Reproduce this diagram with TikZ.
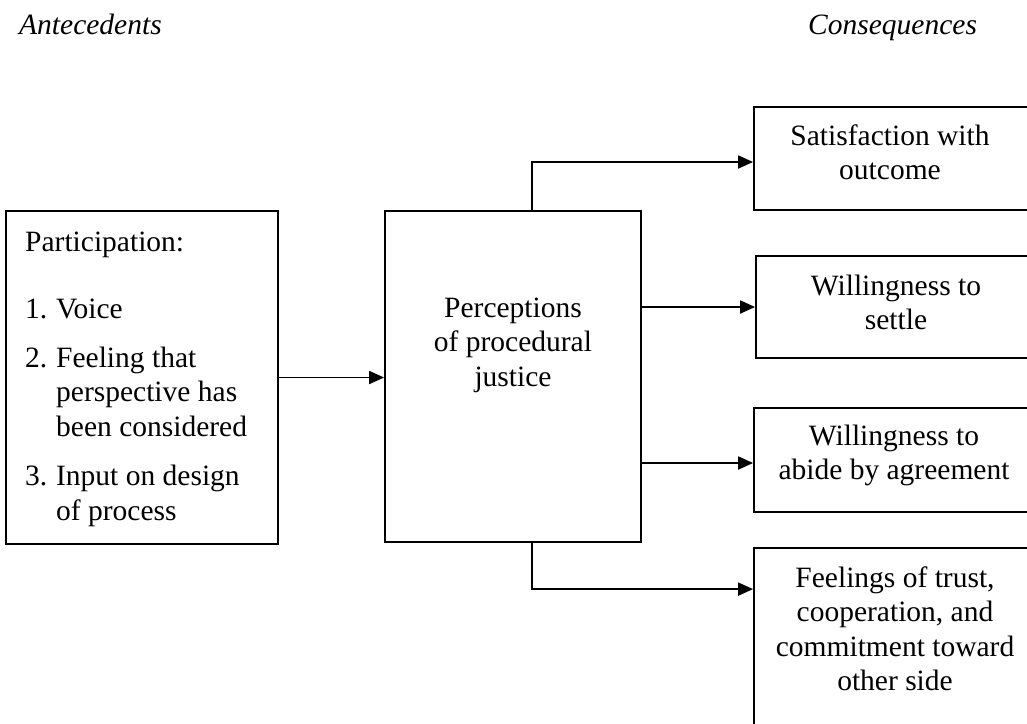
\documentclass[tikz,border=0pt]{standalone}
\usepackage{fontspec}
\setmainfont{Liberation Serif}
\usetikzlibrary{arrows.meta}
\begin{document}
\begin{tikzpicture}[x=1pt,y=-1pt,
  box/.style={draw,line width=1.8pt,rectangle,inner sep=0pt},
  txt/.style={inner sep=0pt,anchor=base,font=\fontsize{29.5}{34.5}\selectfont},
  arr/.style={line width=1.8pt,-{Triangle[length=15pt,width=13pt]}}]
\useasboundingbox (0,0) rectangle (1027,723);
\clip (0,0) rectangle (1027,723);
% titles
\node[txt,anchor=base west] (ant) at (19,34) {\itshape Antecedents};
\node[txt,anchor=base west] (con) at (808,34) {\itshape Consequences};
% boxes
\node[box,minimum width=272pt,minimum height=333pt] (left) at (142,377.5) {};
\node[box,minimum width=256pt,minimum height=331pt] (mid) at (513,376.5) {};
\node[box,minimum width=281pt,minimum height=103pt] (b1) at (894.5,158.5) {};
\node[box,minimum width=279pt,minimum height=102pt] (b2) at (895.5,307) {};
\node[box,minimum width=281pt,minimum height=104pt] (b3) at (894.5,460) {};
\node[box,minimum width=281pt,minimum height=192pt] (b4) at (894.5,644) {};
% texts
\node[txt,anchor=base west] (tl) at (25,251) {\parbox[t]{250pt}{\raggedright
Participation:\\[33pt]
\makebox[31pt][l]{1.}Voice\\[14pt]
\makebox[31pt][l]{2.}Feeling that\\
\hspace*{31pt}perspective has\\
\hspace*{31pt}been considered\\[15pt]
\makebox[31pt][l]{3.}Input on design\\
\hspace*{31pt}of process}};
\node[txt] (tm) at (513,317) {\parbox[t]{250pt}{\centering Perceptions\\of procedural\\justice}};
\node[txt] (t1) at (890,145) {\parbox[t]{270pt}{\centering Satisfaction with\\outcome}};
\node[txt] (t2) at (896,295) {\parbox[t]{270pt}{\centering Willingness to\\settle}};
\node[txt] (t3) at (894,445) {\parbox[t]{270pt}{\centering Willingness to\\abide by agreement}};
\node[txt] (t4) at (895,587) {\parbox[t]{270pt}{\centering Feelings of trust,\\cooperation, and\\commitment toward\\other side}};
% connectors
\coordinate (tap) at (532,0);
\coordinate (e1) at ([yshift=-3.5pt]b1.west);
\coordinate (e3) at ([yshift=-3pt]b3.west);
\coordinate (e4) at ([yshift=-42pt]b4.north west);
\draw[arr] (left.east) -- (mid.west |- left.east);
\draw[arr] (mid.north -| tap) |- (e1);
\draw[arr] (mid.east |- b2.west) -- (b2.west);
\draw[arr] (mid.east |- e3) -- (e3);
\draw[arr] (mid.south -| tap) |- (e4);
\end{tikzpicture}
\end{document}
